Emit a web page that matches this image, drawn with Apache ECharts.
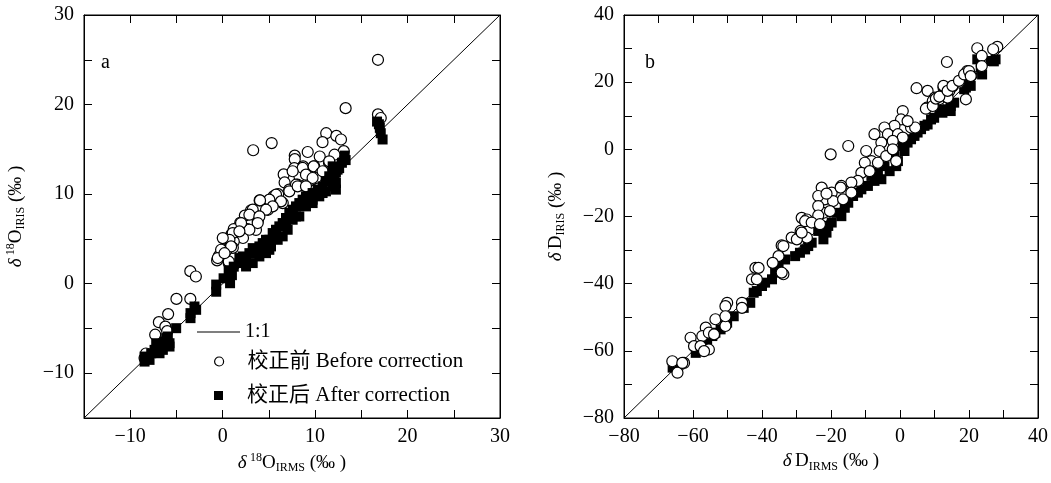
<!DOCTYPE html>
<html><head><meta charset="utf-8">
<script src="https://cdn.jsdelivr.net/npm/echarts@6/dist/echarts.min.js"></script>
<style>html,body{margin:0;padding:0;background:#fff}#c{width:1051px;height:483px}</style>
</head><body><div id="c"></div>
<script>
// ---- Panel a: δ18O (IRMS vs IRIS) ----
const beforeA = [[16.8,25.0],[13.3,19.6],[16.8,18.9],[17.1,18.5],[3.3,14.9],[5.3,15.7],[11.2,16.8],[10.8,15.8],[12.3,16.5],[12.8,16.1],[13.1,14.8],[9.2,14.7],[7.8,14.3],[7.8,13.9],[10.5,14.2],[12.1,14.4],[11.5,13.5],[9.9,13.1],[8.7,13.1],[7.75,12.9],[6.6,12.2],[9.4,12.4],[8.3,12.0],[6.7,11.3],[8.1,11.05],[9.7,11.6],[7.2,10.5],[6.0,10.0],[5.5,9.75],[4.0,9.3],[5.05,9.2],[6.5,9.0],[3.07,8.2],[4.9,8.25],[2.4,7.6],[3.6,7.6],[1.9,6.8],[3.8,7.0],[2.7,6.1],[3.6,6.0],[1.2,6.1],[0.95,5.5],[0.25,5.0],[2.2,5.1],[1.2,4.7],[1.1,4.0],[0.4,3.7],[-0.4,3.1],[-0.6,2.6],[0.65,2.3],[-3.5,1.4],[-2.9,0.8],[-5.0,-1.7],[-3.5,-1.7],[-5.9,-3.4],[-6.9,-4.3],[-6.2,-4.8],[-7.3,-5.7],[-6.0,-5.3],[-8.3,-7.8],[-8.45,-8.3],
  [8.65,12.92],[9.84,13.1],[10.63,12.36],[10.09,11.8],[9.55,11.61],[9.01,12.17],[7.93,11.05],[7.21,10.31],[5.77,9.94],[5.05,9.38],[4.04,9.3],[6.31,9.19],[5.41,8.63],[4.69,8.26],[3.25,8.26],[2.89,7.7],[3.97,7.51],[3.79,6.77],[2.89,6.02],[1.99,6.77],[1.09,5.65],[0.73,4.9],[1.81,5.84],[0.01,5.09],[0.91,4.16],[-0.17,3.79],[-0.53,2.86],[0.66,2.48],[0.2,3.4],
  [11.53,13.66],[7.57,12.55],[9.73,11.8],[8.11,10.87],[9.01,10.87],[10.81,12.55]];
const afterA = [[16.7,18.1],[16.9,17.8],[17.0,17.4],[17.1,16.8],[17.3,16.1],
  [13.2,14.3],[12.9,13.5],[12.6,12.9],[12.25,12.4],[12.1,11.6],[11.9,13.1],[12.25,10.5],[13.3,13.8],
  [1.81,2.3],[2.53,2.67],[2.17,3.04],[2.89,3.41],[3.25,3.97],[3.97,4.16],[4.33,4.53],[4.69,3.97],[5.05,4.9],[5.41,5.65],[5.77,6.02],[6.13,6.4],[6.49,6.77],[6.85,7.33],[7.21,7.89],[7.57,8.26],[7.93,8.63],[8.29,9.0],[8.65,9.38],[9.01,9.75],[9.73,10.12],[10.27,10.5],[10.81,10.87],[11.17,11.43],[11.53,11.99],[11.89,12.36],[12.43,12.73],
  [2.53,1.92],[3.25,2.3],[3.97,3.04],[4.69,3.41],[5.23,4.16],[5.95,4.9],[6.49,5.28],[7.03,6.02],[7.57,7.14],[8.29,7.51],[9.01,8.63],[9.73,9.0],[10.45,9.75],[11.17,10.31],[11.89,10.87],[12.25,11.24],
  [3.61,3.41],[4.69,4.9],[5.77,5.28],[6.85,6.4],[7.93,7.51],[9.73,9.38],[10.81,10.12],[5.05,3.78],[1.81,2.86],
  [-0.7,-0.9],[-0.7,-0.1],[0.1,0.6],[0.8,0.05],[1.0,0.95],[0.65,1.5],[1.2,1.9],
  [-3.48,-3.85],[-3.48,-3.29],[-2.87,-2.92],[-3.05,-2.55],[-5.03,-4.97],[-5.93,-5.9],[-6.29,-6.46],[-5.75,-7.02],[-6.47,-7.39],[-6.83,-7.02],[-7.19,-6.65],[-6.11,-6.09],[-5.75,-6.65],[-7.73,-7.77],[-8.09,-8.33],[-8.45,-8.7],[-8.45,-8.14],[-7.91,-8.51],[-7.37,-7.39],[-6.83,-7.77]];
const lineA = [[-15,-15],[30,30]];
const axisA = {min: -15, max: 30, step: 5, labelStep: 10};

// ---- Panel b: δD (IRMS vs IRIS) ----
const beforeB = [[22.4,30.1],[28.2,30.5],[27.0,29.8],[23.7,27.8],[23.7,24.8],[13.6,26.0],[4.8,18.2],[8.0,17.4],[7.8,12.4],
  [19.5,23.3],[20.7,22.0],[18.6,22.0],[17.1,19.9],[15.2,18.7],[12.6,18.4],[11.9,15.9],[14.3,17.4],[10.1,15.4],[11.4,14.9],[19.1,14.9],[13.8,15.4],[9.5,14.4],[7.5,12.1],[9.5,12.9],
  [12.6,18.9],[10.4,15.1],[11.4,15.7],[13.8,17.4],[15.2,18.9],[17.1,20.4],[18.6,22.3],[20.0,23.3],[20.5,21.8],
  [0.8,11.4],[0.3,8.9],[-1.6,7.0],[-4.5,6.5],[-3.5,4.5],[-0.6,4.5],[0.8,3.5],[-7.4,4.5],[-5.4,2.0],[-2.1,2.5],[-5.9,-0.5],[-9.8,-0.5],[-8.3,-3.5],[-10.2,-4.0],[-6.4,-4.0],[-4.0,-2.0],[-2.1,0.0],[-1.1,-3.5],[-11.2,-7.0],[-8.8,-6.5],[-12.2,-9.4],[-14.1,-9.9],[-17.0,-10.9],[-19.8,-12.9],[-22.7,-11.4],[-21.8,-14.9],[-19.4,-15.4],[-16.5,-14.9],[-14.1,-12.9],[-22.2,-18.9],[-20.3,-18.4],[-15.0,1.0],[-20.1,-1.5],
  [3.2,6.5],[4.4,6.5],[2.2,8.4],[-23.7,-13.9],[-21.3,-13.2],[-23.7,-16.9],[-17.2,-11.4],
  [-28.5,-20.4],[-27.0,-20.9],[-23.7,-19.7],[-28.8,-24.3],[-27.0,-26.3],[-31.4,-26.3],[-34.3,-28.6],[-35.2,-31.8],[-36.9,-33.8],[-33.8,-37.2],[-41.9,-35.3],[-41.0,-35.3],[-42.9,-38.7],[-41.5,-38.7],[-45.8,-45.7],[-50.1,-45.7],[-50.6,-46.7],[-53.5,-50.6],[-50.6,-52.6],[-56.3,-53.1],[-57.3,-55.6],[-55.4,-54.6],[-60.7,-56.1],[-59.7,-58.6],[-57.8,-58.6],[-55.4,-59.6],[-66.0,-63.1],[-62.6,-63.6],[-64.5,-66.5],
  [-50.6,-49.7],[-45.8,-47.2],[-33.8,-28.8],[-29.9,-26.8],[-28.5,-24.8],[-27.5,-21.4],[-25.6,-21.8],[-23.2,-22.3],[-34.3,-36.7],[-53.9,-55.1],[-56.8,-60.1],[-63.1,-63.6]];
const afterB = [[22.4,26.8],[23.8,22.3],[27.2,26.2],[27.7,26.8],[26.3,26.3],[23.4,24.3],[20.5,18.9],[19.1,18.4],[18.6,17.9],[20.0,19.4],[14.7,12.9],[13.8,11.9],[14.7,11.4],[11.4,11.9],[9.9,9.4],[9.0,8.9],[7.1,7.0],[5.1,5.0],[2.2,2.0],[1.3,-0.5],[-0.6,-3.5],[-1.1,-5.0],[-3.0,-6.5],[-5.4,-8.9],[-7.4,-9.4],[-9.3,-10.9],[-11.2,-11.9],[-13.6,-13.9],[-16.0,-17.4],[-17.0,-19.9],[-19.8,-21.8],[-21.3,-24.8],[-22.2,-26.8],[-23.7,-24.3],[-27.5,-29.8],[-29.0,-30.8],[-30.4,-31.8],[-33.3,-32.8],[-36.2,-36.7],[-37.1,-38.7],[-40.0,-40.7],[-41.5,-42.2],[-43.4,-45.7],[-45.3,-47.2],[-50.1,-51.6],[-52.0,-53.6],[-53.5,-54.6],[-55.9,-57.6],[-58.3,-60.1],[-59.2,-60.6],[-65.0,-64.5],[-65.9,-65.0],
  [15.7,13.9],[12.3,10.9],[8.0,7.4],[6.1,6.0],[4.2,4.0],[3.2,3.0],[0.8,1.0],[-1.6,-2.0],[-4.5,-5.0],[-6.4,-6.95],[-8.3,-7.9],[-12.2,-12.9],[-15.0,-15.9],[-18.4,-18.9],[-20.8,-22.8],[-25.6,-27.8],[-26.6,-28.8],[-35.2,-34.8],[-39.1,-39.7],[-42.4,-42.7],[-48.2,-49.7],[-50.6,-52.1],[-54.4,-55.6],[-56.3,-58.6],[-64.0,-64.1]];
const lineB = [[-80,-80],[40,40]];
const axisB = {min: -80, max: 40, step: 10, labelStep: 20};

const seriesNames = ['1:1', '校正前 Before correction', '校正后 After correction'];
const panelLabels = ['a', 'b'];
const axisTitles = {
  ax: '{d|δ} {sup|18}{m|O}{sub|IRMS}{m| (‰ )}',
  ay: '{d|δ} {sup|18}{m|O}{sub|IRIS}{m| (‰ )}',
  bx: '{d|δ} {m|D}{sub|IRMS}{m| (‰ )}',
  by: '{d|δ} {m|D}{sub|IRIS}{m| (‰ )}'
};

const FONT = "'Liberation Serif','Times New Roman','Noto Sans CJK SC',serif";
const rich = {
  d: {fontFamily: FONT, fontSize: 19, fontStyle: 'italic', color: '#000', lineHeight: 22},
  m: {fontFamily: FONT, fontSize: 19, color: '#000', lineHeight: 22},
  sup: {fontFamily: FONT, fontSize: 12, color: '#000', verticalAlign: 'top', lineHeight: 14},
  sub: {fontFamily: FONT, fontSize: 12, color: '#000', verticalAlign: 'bottom', lineHeight: 12}
};
const fmt = (step) => (v) => (Math.round(v) % step === 0 ? String(v).replace('-', '\u2212') : '');

function makeAxis(type, gi, ax, position, name, gap, main) {
  const o = {
    type: 'value', gridIndex: gi, min: ax.min, max: ax.max, interval: ax.step, position,
    splitLine: {show: false},
    axisLine: {show: true, onZero: false, lineStyle: {color: '#000', width: 1}},
    axisTick: {show: true, inside: true, length: 8, lineStyle: {color: '#000', width: 1}},
    axisLabel: {show: main, formatter: fmt(ax.labelStep), color: '#000', fontFamily: FONT, fontSize: 20,
                margin: type === 'x' ? 9 : 10, showMinLabel: true, showMaxLabel: true}
  };
  if (main) {
    o.name = name; o.nameLocation = 'middle'; o.nameGap = gap;
    o.nameTextStyle = {rich: rich};
  }
  return o;
}

const chart = echarts.init(document.getElementById('c'), null, {renderer: 'canvas'});
const scatterBase = (name, data, gi, kind, z) => ({
  name, type: 'scatter', data, xAxisIndex: gi * 2, yAxisIndex: gi * 2, z,
  symbol: kind === 'o' ? 'circle' : 'rect',
  symbolSize: kind === 'o' ? 11 : 10,
  itemStyle: kind === 'o' ? {color: '#fff', borderColor: '#000', borderWidth: 1.2, opacity: 1}
                           : {color: '#000', borderColor: '#000', borderWidth: 0, opacity: 1},
  emphasis: {disabled: true}, silent: true, animation: false
});
const lineBase = (data, gi) => ({
  name: seriesNames[0], type: 'line', data, xAxisIndex: gi * 2, yAxisIndex: gi * 2, z: 1,
  symbol: 'none', color: '#000', lineStyle: {color: '#000', width: 1}, silent: true, animation: false
});
const legendText = {color: '#000', fontFamily: FONT, fontSize: 20};
const legendTextPad = {color: '#000', fontFamily: FONT, fontSize: 21, padding: [0, 0, 0, 19]};

chart.setOption({
  animation: false,
  backgroundColor: '#fff',
  grid: [
    {left: 84, top: 15, width: 416, height: 403, show: true, borderColor: '#000', borderWidth: 1},
    {left: 624, top: 15, width: 415, height: 403, show: true, borderColor: '#000', borderWidth: 1}
  ],
  title: [
    {text: panelLabels[0], left: 101, top: 53, padding: 0, textStyle: {fontFamily: FONT, fontSize: 20, fontWeight: 'normal', color: '#000'}},
    {text: panelLabels[1], left: 645, top: 53, padding: 0, textStyle: {fontFamily: FONT, fontSize: 20, fontWeight: 'normal', color: '#000'}}
  ],
  legend: [
    {data: [{name: seriesNames[0], icon: 'path://M0,0L43,0L43,1L0,1Z'}], left: 197, top: 322, padding: 0,
     itemWidth: 43, itemHeight: 2, selectedMode: false, textStyle: legendText},
    {data: [{name: seriesNames[1], icon: 'circle'}], left: 214, top: 351, padding: 0,
     itemWidth: 9, itemHeight: 9, selectedMode: false, textStyle: legendTextPad,
     itemStyle: {color: '#fff', borderColor: '#000', borderWidth: 1.2}},
    {data: [{name: seriesNames[2], icon: 'square'}], left: 214, top: 385, padding: 0,
     itemWidth: 9, itemHeight: 9, selectedMode: false, textStyle: legendTextPad}
  ],
  xAxis: [
    makeAxis('x', 0, axisA, 'bottom', axisTitles.ax, 32, true),
    makeAxis('x', 0, axisA, 'top', '', 0, false),
    makeAxis('x', 1, axisB, 'bottom', axisTitles.bx, 32, true),
    makeAxis('x', 1, axisB, 'top', '', 0, false)
  ],
  yAxis: [
    makeAxis('y', 0, axisA, 'left', axisTitles.ay, 57, true),
    makeAxis('y', 0, axisA, 'right', '', 0, false),
    makeAxis('y', 1, axisB, 'left', axisTitles.by, 57, true),
    makeAxis('y', 1, axisB, 'right', '', 0, false)
  ],
  series: [
    lineBase(lineA, 0),
    scatterBase(seriesNames[1], beforeA, 0, 'o', 2),
    scatterBase(seriesNames[2], afterA, 0, 's', 3),
    lineBase(lineB, 1),
    scatterBase(seriesNames[2], afterB, 1, 's', 2),
    scatterBase(seriesNames[1], beforeB, 1, 'o', 3)
  ]
});
</script>
</body></html>
